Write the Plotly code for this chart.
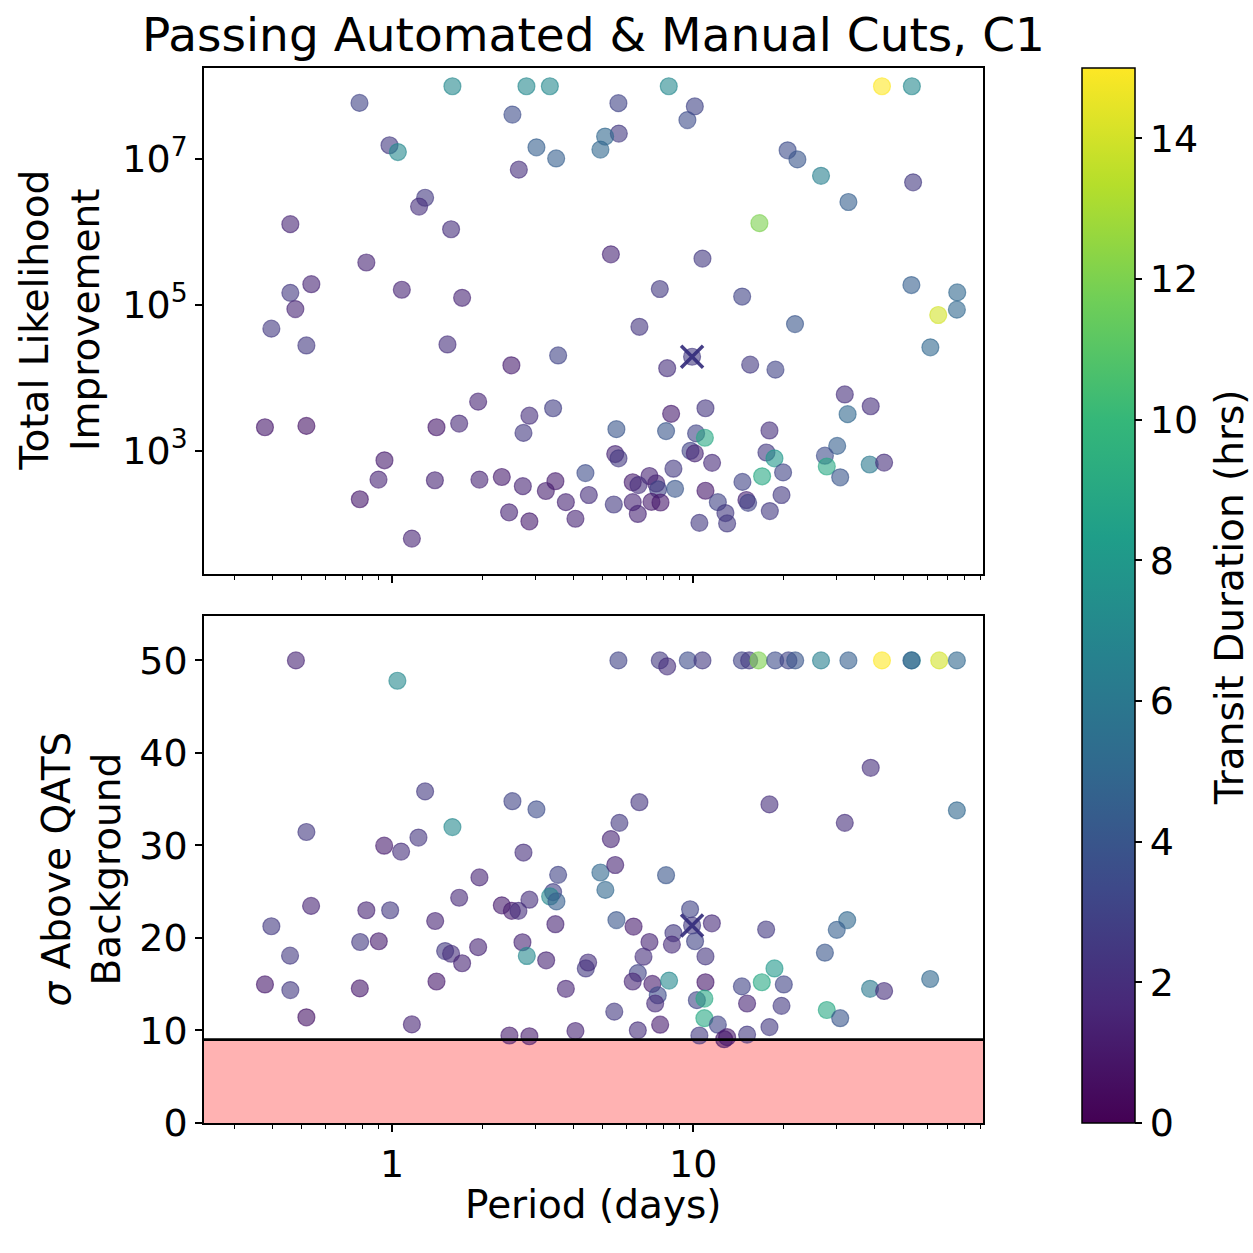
import plotly.graph_objects as go
import plotly.colors as pc

# ---------------------------------------------------------------- data
# Candidates passing the automated and manual cuts (C1).
# Upper panel: period (days), total likelihood improvement, transit duration (hrs)
top_period = [
    0.779, 0.98, 1.045, 0.459, 0.821, 0.539, 0.459, 0.477, 1.077, 0.397, 0.519,
    0.378, 0.519, 0.943, 0.901, 0.781, 1.163,
    1.586, 2.794, 3.342, 2.51, 3.016, 3.507, 4.92, 2.636, 1.287, 1.229, 1.570,
    1.708, 1.527, 3.561, 2.49, 1.931, 3.426, 2.858, 1.404, 1.670, 2.731, 4.387,
    1.387, 1.950, 2.314, 2.718, 3.241, 3.487, 3.777, 4.503, 2.447, 2.858, 4.064,
    8.30, 5.646, 10.13, 9.57, 5.664, 5.10, 20.6, 16.6, 5.33, 10.74, 7.75, 14.55,
    6.63, 9.92, 8.20, 15.47, 18.77, 8.45, 10.99, 5.56, 8.13, 10.23, 10.94, 17.93,
    5.51, 5.65, 9.80, 10.13, 11.56, 17.52, 18.63, 16.95, 8.60, 14.58, 19.9, 6.30,
    7.16, 6.58, 7.54, 7.65, 8.71, 10.99, 5.45, 6.30, 7.27, 7.79, 6.55, 12.08,
    12.80, 12.97, 10.49, 15.03, 15.23, 17.98, 19.66,
    42.4, 53.3, 22.2, 26.6, 53.8, 32.8, 53.1, 75.4, 65.2, 75.2, 21.8, 61.4, 31.9,
    38.9, 32.6, 30.1, 27.4, 27.8, 38.6, 43.1, 30.8,
]
top_likelihood = [
    5.9e7, 1.55e7, 1.25e7, 1.28e6, 3.81e5, 1.92e5, 1.46e5, 8.75e4, 1.61e5, 4.71e4,
    2.77e4, 2090, 2180, 736, 400, 215, 62,
    1e8, 1e8, 1e8, 4.08e7, 1.45e7, 1.02e7, 1.35e7, 7.17e6, 2.95e6, 2.23e6, 1.09e6,
    1.25e5, 2.86e4, 2.02e4, 1.48e4, 4690, 3810, 3010, 2090, 2350, 1750, 491,
    392, 400, 434, 325, 279, 380, 196, 246, 142, 107, 116,
    1e8, 5.86e7, 5.29e7, 3.43e7, 2.24e7, 2.04e7, 1.32e7, 1.32e6, 4.93e5, 4.31e5,
    1.65e5, 1.30e5, 5.0e4, 1.94e4, 1.35e4, 1.51e4, 1.29e4, 3200, 3810, 1970, 1850,
    1720, 1500, 1890, 897, 783, 994, 914, 679, 942, 783, 444, 564, 372, 502, 368,
    448, 336, 354, 294, 299, 281, 182, 196, 198, 194, 135, 196, 139, 100, 102,
    210, 192, 148, 246,
    1e8, 1e8, 9.9e6, 5.90e6, 4.80e6, 2.58e6, 1.87e5, 1.48e5, 7.26e4, 8.59e4,
    5.44e4, 2.61e4, 5890, 4060, 3160, 1160, 851, 605, 644, 685, 430,
]
top_duration = [
    3.0, 2.5, 7, 1.5, 1.5, 1.5, 2.5, 1.5, 1.5, 2.5, 2.5, 1.0, 0.8, 1.2, 1.5, 1.0, 1.5,
    7, 7, 7, 3.5, 4.5, 4.5, 5, 2, 2.5, 2, 2, 1.5, 2, 3, 1.2, 1.5, 2.8, 2, 1.0, 1.7,
    2.5, 3.5, 1.5, 1.5, 1.2, 1.5, 1.3, 1.2, 1.5, 2, 1.5, 1.2, 1.5,
    7, 3, 3, 3.5, 2.5, 5, 3.5, 12, 1.5, 2.5, 2.5, 3, 2.3, 2.5, 2, 2.5, 3, 1.2, 2.3,
    4, 4, 3, 9, 2, 1.5, 2.5, 3, 1.5, 1.8, 2.5, 8, 9, 2.5, 3, 3, 1.2, 1.5, 2, 1.5,
    3, 4, 1.0, 2.5, 1.5, 1.2, 1.0, 1.5, 3, 2.5, 2.5, 2.5, 1.5, 3, 2.5, 2.5,
    15, 7, 4, 6.5, 2.5, 4.5, 4.5, 5, 14, 5, 4, 5, 2, 2, 5, 4.5, 3.5, 9, 6, 2, 4,
]

# Lower panel: period (days), sigma above QATS background, transit duration (hrs)
bot_period = [
    0.479, 1.041, 0.519, 0.941, 1.071, 0.538, 0.821, 0.985, 0.397, 0.783, 0.903,
    0.458, 0.378, 0.459, 0.781, 0.519, 1.163,
    1.287, 2.51, 3.016, 1.586, 1.223, 2.731, 1.950, 3.561, 1.670, 2.314, 2.499,
    2.628, 2.858, 3.426, 3.349, 3.515, 4.92, 1.390, 3.487, 1.500, 1.570, 1.931,
    1.708, 2.710, 2.802, 3.249, 4.40, 4.479, 1.404, 3.777, 4.064, 2.453, 2.858,
    5.646, 7.75, 8.20, 9.60, 10.74, 14.52, 15.35, 16.48, 18.73, 20.73, 21.83,
    26.6, 32.8, 42.4, 53.3, 53.1, 65.7, 75.2,
    6.63, 17.93, 5.69, 5.33, 5.51, 5.11, 8.13, 5.56, 6.34, 9.77, 9.92, 11.54,
    8.60, 10.15, 8.50, 7.16, 6.84, 10.99, 17.48, 6.55, 6.30, 7.32, 8.32, 10.99,
    7.63, 7.48, 10.29, 10.90, 10.90, 14.52, 16.91, 18.63, 20.01, 15.11, 19.66,
    5.47, 7.77, 6.55, 12.08, 17.93, 10.49, 12.97, 12.68, 15.11,
    38.9, 75.2, 31.9, 32.5, 30.0, 27.4, 61.3, 38.7, 43.1, 27.8, 30.8,
]
bot_sigma = [
    50, 47.8, 31.45, 29.97, 29.33, 23.46, 22.99, 22.99, 21.26, 19.56, 19.64,
    18.08, 14.97, 14.36, 14.54, 11.42, 10.65,
    35.84, 34.78, 33.9, 31.98, 30.85, 29.23, 26.54, 26.82, 24.34, 23.52, 22.93,
    22.93, 24.13, 24.95, 24.48, 23.95, 27.07, 21.83, 21.48, 18.58, 18.29, 19.0,
    17.26, 19.53, 18.05, 17.58, 16.7, 17.34, 15.29, 14.5, 9.94, 9.45, 9.37,
    50, 50, 49.36, 50, 50, 50, 50, 50, 50, 50, 50,
    50, 50, 50, 50, 50, 50, 50,
    34.67, 34.43, 32.44, 30.68, 27.88, 25.19, 26.78, 21.93, 21.23, 23.1, 21.34,
    21.58, 20.52, 19.64, 19.28, 19.56, 17.97, 18.0, 20.91, 16.2, 15.29, 15.03,
    15.39, 15.21, 13.8, 12.91, 13.27, 13.44, 11.32, 14.76, 15.21, 16.7, 14.97,
    12.91, 12.66, 12.03, 10.62, 10.01, 10.62, 10.36, 9.45, 9.27, 9.05, 9.55,
    38.39, 33.79, 32.44, 21.93, 20.87, 18.4, 15.56, 14.5, 14.26, 12.21, 11.32,
]
bot_duration = [
    1.5, 7, 2.5, 1.2, 2, 1.5, 1.5, 2.5, 2.5, 2.5, 1.2, 2.5, 1.0, 2.5, 1.0, 0.8, 1.5,
    2.5, 3, 3.5, 7, 2.3, 2, 1.5, 3, 1.7, 1.2, 1.2, 2, 2, 2.8, 7, 4.5, 5, 1.5, 1.5,
    2.5, 2, 1.5, 1.5, 1.5, 7, 1.5, 2.5, 2, 1.0, 1.5, 1.5, 1.2, 1.2,
    3, 2.5, 2, 3.5, 2.5, 3, 2.5, 12, 3.5, 3, 4, 6.5, 4.5, 15, 7, 4.5, 14, 5,
    2.3, 2, 2.5, 1.5, 1.5, 5, 4, 4, 1.2, 3, 2.5, 1.8, 2.5, 3, 1.8, 1.5, 2, 2.3,
    2.5, 3, 1.5, 1.2, 7, 1.0, 3.5, 1.8, 3, 9, 9, 3, 9, 8, 3, 1.5, 2.5,
    2.5, 1.2, 2, 3, 2.5, 2.5, 1.0, 1.0, 2.5,
    2, 5, 2, 5, 4.5, 4, 5, 6, 2, 9, 4,
]

# Known planet highlighted with a cross in both panels
known_period = 9.92
known_likelihood = 1.94e4
known_sigma = 21.34

sigma_threshold = 9          # detection threshold line / shaded region
duration_range = (0, 15)     # colour scale limits (hrs)
duration_ticks = [0, 2, 4, 6, 8, 10, 12, 14]
period_ticks = [1, 10]
likelihood_ticks = [1e3, 1e5, 1e7]
likelihood_labels = ["10<sup>3</sup>", "10<sup>5</sup>", "10<sup>7</sup>"]
sigma_ticks = [0, 10, 20, 30, 40, 50]

# ---------------------------------------------------------------- styling
W = H = 1253
FONT = "DejaVu Sans"
TICK_SIZE = 38
LABEL_SIZE = 39
viridis = pc.sequential.Viridis


def rgba(hexcol, a):
    r, g, b = pc.hex_to_rgb(hexcol)
    return f"rgba({r},{g},{b},{a})"


n_stops = len(viridis)
faded_scale = [[i / (n_stops - 1), rgba(c, 0.6)] for i, c in enumerate(viridis)]
solid_scale = [[i / (n_stops - 1), c] for i, c in enumerate(viridis)]

# layout geometry in pixels -> paper fractions
px_left, px_right = 204, 983
top_px = (69, 584)
bot_px = (627, 1143)
cbar_px = (1082, 69, 1143)


def xfrac(p):
    return p / W


def yfrac(p):
    return 1 - p / H


def points(xs, ys, cs, xa, ya):
    return go.Scatter(
        x=xs, y=ys, xaxis=xa, yaxis=ya, mode="markers",
        marker=dict(
            size=17, color=cs, colorscale=faded_scale,
            cmin=duration_range[0], cmax=duration_range[1],
            line=dict(width=1.2, color=cs, colorscale=faded_scale,
                      cmin=duration_range[0], cmax=duration_range[1]),
        ),
        showlegend=False, hoverinfo="skip",
    )


def cross(x, y, xa, ya):
    return go.Scatter(
        x=[x], y=[y], xaxis=xa, yaxis=ya, mode="markers",
        marker=dict(symbol="x-thin", size=22, color="rgba(50,42,122,0.9)",
                    line=dict(width=3.5, color="rgba(50,42,122,0.9)")),
        showlegend=False, hoverinfo="skip",
    )


fig = go.Figure()
fig.add_trace(points(top_period, top_likelihood, top_duration, "x", "y"))
fig.add_trace(cross(known_period, known_likelihood, "x", "y"))
fig.add_trace(points(bot_period, bot_sigma, bot_duration, "x2", "y2"))
fig.add_trace(cross(known_period, known_sigma, "x2", "y2"))

# colour bar for transit duration
fig.add_trace(go.Scatter(
    x=[None], y=[None], xaxis="x", yaxis="y", mode="markers",
    marker=dict(
        color=[duration_range[0]], colorscale=solid_scale,
        cmin=duration_range[0], cmax=duration_range[1], showscale=True,
        colorbar=dict(
            x=xfrac(cbar_px[0]), xanchor="left", xpad=0, ypad=0,
            y=yfrac((cbar_px[1] + cbar_px[2]) / 2), yanchor="middle",
            len=(cbar_px[2] - cbar_px[1]) / H, lenmode="fraction",
            thickness=53, thicknessmode="pixels",
            outlinewidth=1.5, outlinecolor="black",
            tickvals=duration_ticks, ticks="outside", ticklen=7, tickwidth=1.5,
            tickcolor="black",
            tickfont=dict(family=FONT, size=TICK_SIZE, color="black"),
        ),
    ),
    showlegend=False, hoverinfo="skip",
))

minor_periods = [0.3, 0.4, 0.5, 0.6, 0.7, 0.8, 0.9,
                 2, 3, 4, 5, 6, 7, 8, 9,
                 20, 30, 40, 50, 60, 70, 80, 90]

frame = dict(showline=True, mirror=True, linecolor="black", linewidth=1.6,
             showgrid=False, zeroline=False, ticks="outside", ticklen=7,
             tickwidth=1.5, tickcolor="black",
             tickfont=dict(family=FONT, size=TICK_SIZE, color="black"))

xcommon = dict(
    type="log", range=[-0.625, 1.963], tickvals=period_ticks,
    ticktext=[str(v) for v in period_ticks],
    domain=[xfrac(px_left), xfrac(px_right)],
    minor=dict(tickvals=minor_periods, ticks="outside", ticklen=4,
               tickwidth=1.2, tickcolor="black", showgrid=False),
    **frame,
)

fig.update_layout(
    width=W, height=H,
    margin=dict(l=0, r=0, t=0, b=0),
    paper_bgcolor="white", plot_bgcolor="white",
    font=dict(family=FONT, color="black"),
    title=dict(text="Passing Automated & Manual Cuts, C1",
               x=xfrac((px_left + px_right) / 2), xanchor="center",
               y=yfrac(35), yanchor="middle",
               font=dict(family=FONT, size=47, color="black")),
    xaxis=dict(anchor="y", showticklabels=False, **xcommon),
    xaxis2=dict(anchor="y2", matches="x", showticklabels=True, **xcommon),
    yaxis=dict(anchor="x", type="log", range=[1.31, 8.253],
               domain=[yfrac(top_px[1]), yfrac(top_px[0])],
               tickvals=likelihood_ticks, ticktext=likelihood_labels, **frame),
    yaxis2=dict(anchor="x2", range=[0, 54.8],
                domain=[yfrac(bot_px[1]), yfrac(bot_px[0])],
                tickvals=sigma_ticks, **frame),
    shapes=[
        dict(type="rect", xref="x2 domain", yref="y2", x0=0, x1=1,
             y0=0, y1=sigma_threshold, fillcolor="rgba(255,0,0,0.3)",
             line=dict(width=0), layer="below"),
        dict(type="line", xref="x2 domain", yref="y2", x0=0, x1=1,
             y0=sigma_threshold, y1=sigma_threshold,
             line=dict(color="black", width=2.6), layer="above"),
    ],
    annotations=[
        dict(text="Total Likelihood<br>Improvement", textangle=-90,
             x=xfrac(60), y=yfrac((top_px[0] + top_px[1]) / 2),
             xref="paper", yref="paper", xanchor="center", yanchor="middle",
             showarrow=False,
             font=dict(family=FONT, size=LABEL_SIZE, color="black")),
        dict(text="<i>σ</i> Above QATS<br>Background", textangle=-90,
             x=xfrac(82), y=yfrac((bot_px[0] + bot_px[1]) / 2),
             xref="paper", yref="paper", xanchor="center", yanchor="middle",
             showarrow=False,
             font=dict(family=FONT, size=LABEL_SIZE, color="black")),
        dict(text="Period (days)",
             x=xfrac((px_left + px_right) / 2), y=yfrac(1226),
             xref="paper", yref="paper", xanchor="center", yanchor="middle",
             showarrow=False,
             font=dict(family=FONT, size=LABEL_SIZE, color="black")),
        dict(text="Transit Duration (hrs)", textangle=-90,
             x=xfrac(1229), y=yfrac(608),
             xref="paper", yref="paper", xanchor="center", yanchor="middle",
             showarrow=False,
             font=dict(family=FONT, size=LABEL_SIZE, color="black")),
    ],
)

fig.write_html("out.html")
